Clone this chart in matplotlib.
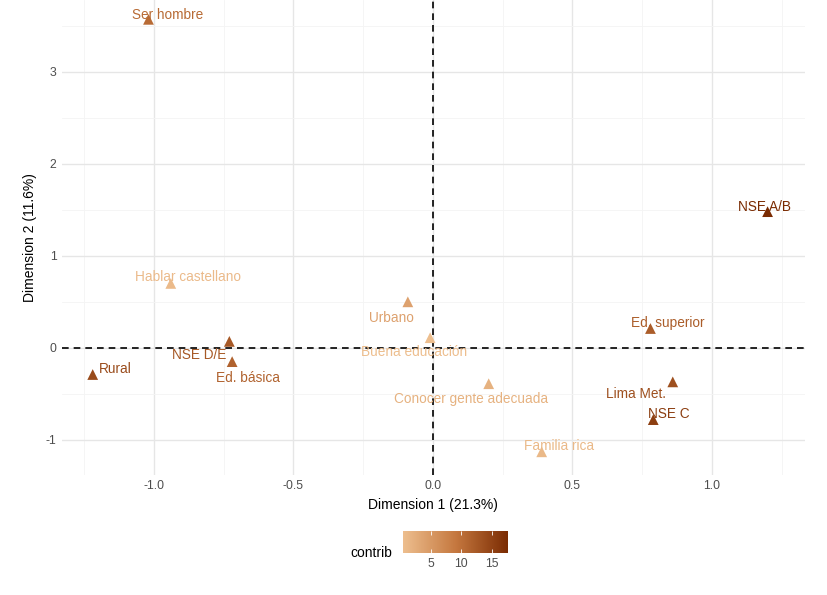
import matplotlib
matplotlib.use('Agg')
import matplotlib.pyplot as plt
from matplotlib.colors import LinearSegmentedColormap, Normalize
from matplotlib.ticker import MultipleLocator
import numpy as np

plt.rcParams['font.family'] = ['Liberation Sans', 'DejaVu Sans']
plt.rcParams['axes.unicode_minus'] = False

# datos del biplot (coordenadas y contribuciones)
labels = ['Ser hombre', 'NSE A/B', 'Hablar castellano', 'Urbano', 'Buena educación',
          'Ed. superior', 'NSE D/E', 'Ed. básica', 'Rural', 'Conocer gente adecuada',
          'Lima Met.', 'NSE C', 'Familia rica']
dim1 = [-1.02, 1.20, -0.94, -0.09, -0.01, 0.78, -0.73, -0.72, -1.22, 0.20, 0.86, 0.79, 0.39]
dim2 = [3.57, 1.48, 0.70, 0.50, 0.11, 0.21, 0.07, -0.15, -0.29, -0.39, -0.37, -0.78, -1.13]
contrib = [10.5, 17.6, 1.0, 4.0, 0.5, 12.0, 12.5, 11.5, 14.0, 2.0, 13.5, 15.5, 1.2]
# desplazamiento de etiquetas (px)
label_dx = [19, -3, 17, -16, -16, 17, -30, 16, 23, -18, -37, 16, 17]
label_dy = [4, 5, 6, -16, -14, 6, -14, -16, 6, -15, -12, 6, 6]

cmap = LinearSegmentedColormap.from_list('contrib', ['#EDBE8E', '#C5783F', '#7A2B02'])
norm = Normalize(vmin=min(contrib), vmax=max(contrib))

fig = plt.figure(figsize=(8.27, 5.95), dpi=100)
ax = fig.add_axes([0.075, 0.202, 0.898, 0.798])

ax.set_xlim(-1.33, 1.333)
ax.set_ylim(-1.38, 3.78)
ax.xaxis.set_major_locator(MultipleLocator(0.5))
ax.xaxis.set_minor_locator(MultipleLocator(0.25))
ax.yaxis.set_major_locator(MultipleLocator(1))
ax.yaxis.set_minor_locator(MultipleLocator(0.5))
ax.grid(which='major', color='#e6e6e6', linewidth=1.0)
ax.grid(which='minor', color='#f4f4f4', linewidth=0.6)
ax.set_axisbelow(True)
for s in ax.spines.values():
    s.set_visible(False)
ax.tick_params(which='both', length=0, labelsize=8.8, labelcolor='#4d4d4d', pad=4)
ax.set_xticks([-1.0, -0.5, 0.0, 0.5, 1.0])
ax.set_xticklabels(['-1.0', '-0.5', '0.0', '0.5', '1.0'])

ax.axhline(0, color='black', linestyle=(0, (4, 3)), linewidth=1.2, zorder=1)
ax.axvline(0, color='black', linestyle=(0, (4, 3)), linewidth=1.2, zorder=1)

colors = cmap(norm(np.array(contrib)))
ax.scatter(dim1, dim2, marker='^', s=60, c=colors, zorder=3, linewidths=0)
for lab, x, y, dx, dy, col in zip(labels, dim1, dim2, label_dx, label_dy, colors):
    ax.annotate(lab, (x, y), xytext=(dx * 0.72, dy * 0.72), textcoords='offset points',
                ha='center', va='center', fontsize=9.8, color=col, zorder=4)

ax.set_xlabel('Dimension 1 (21.3%)', fontsize=10, labelpad=4)
ax.set_ylabel('Dimension 2 (11.6%)', fontsize=10, labelpad=6)

# barra de color
cax = fig.add_axes([403 / 827, 1 - 553 / 595, 105 / 827, 22 / 595])
cb = fig.colorbar(plt.cm.ScalarMappable(norm=norm, cmap=cmap), cax=cax, orientation='horizontal')
cb.outline.set_visible(False)
cb.set_ticks([5, 10, 15])
cax.tick_params(length=3, width=0.6, colors='white', labelcolor='#4d4d4d', labelsize=8.8,
                direction='in', top=True)
fig.text(392 / 827, 1 - 553 / 595, 'contrib', ha='right', va='center', fontsize=10)

fig.savefig('out.png', dpi=100)
